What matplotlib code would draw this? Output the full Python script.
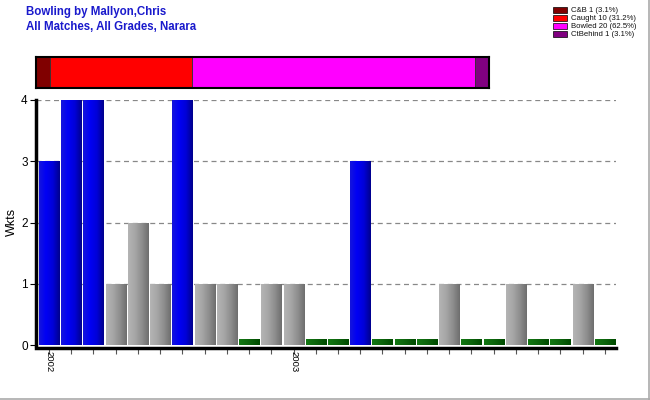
import matplotlib
matplotlib.use("Agg")
import matplotlib.pyplot as plt
import numpy as np
from matplotlib.lines import Line2D
from matplotlib.colors import LinearSegmentedColormap

plt.rcParams['font.family'] = ['Liberation Sans', 'DejaVu Sans']

# Data
wickets = [3, 4, 4, 1, 2, 1, 4, 1, 1, 0.1, 1, 1, 0.1, 0.1, 3, 0.1, 0.1, 0.1, 1, 0.1, 0.1, 1, 0.1, 0.1, 1, 0.1]
xlabels = ['2002'] + [''] * 10 + ['2003'] + [''] * 14
dismissal_names = ['C&B', 'Caught', 'Bowled', 'CtBehind']
dismissal_counts = [1, 10, 20, 1]
dismissal_colors = ['#800000', '#FF0000', '#FF00FF', '#800080']

fig = plt.figure(figsize=(6.5, 4.0), dpi=100)
fig.patch.set_facecolor('white')

# Main axes
ax = fig.add_axes([36/650, 1-345/400, 580/650, 245/400])
x = np.arange(len(wickets))
bars = ax.bar(x, wickets, width=0.9, color='none', edgecolor='none', zorder=3)

cmaps = {
    'blue': LinearSegmentedColormap.from_list('b', ['#1414DC', '#0000F5', '#0000D8', '#00008C']),
    'gray': LinearSegmentedColormap.from_list('g', ['#B4B4B4', '#A6A6A6', '#8E8E8E', '#6E6E6E']),
    'green': LinearSegmentedColormap.from_list('gr', ['#137813', '#0C640C', '#004A00']),
}
grad = np.linspace(0, 1, 64).reshape(1, -1)
for b, v in zip(bars, wickets):
    if v >= 3:
        cm = cmaps['blue']
    elif v >= 1:
        cm = cmaps['gray']
    else:
        cm = cmaps['green']
    x0, w, h = b.get_x(), b.get_width(), b.get_height()
    im = ax.imshow(grad, cmap=cm, aspect='auto', extent=[x0, x0 + w, 0, h],
                   zorder=3, interpolation='bilinear')
    im.set_clip_path(b)

ax.set_xlim(-0.58, len(wickets) - 0.5)
ax.set_ylim(0, 4)
ax.set_yticks([0, 1, 2, 3, 4])
ax.set_yticklabels(['0', '1', '2', '3', '4'], fontsize=8.5)
ax.set_xticks(x)
ax.set_xticklabels(xlabels)
ax.tick_params(axis='x', length=4, color='#555555', pad=-2, labelrotation=-90, labelsize=6.8)
ax.tick_params(axis='y', length=4, color='black', pad=2)
for yv in [1, 2, 3, 4]:
    ax.axhline(yv, color='#888888', linestyle=(0, (4, 3)), linewidth=0.9, zorder=1)
for s in ['top', 'right']:
    ax.spines[s].set_visible(False)
ax.spines['left'].set_linewidth(2.5)
ax.spines['bottom'].set_linewidth(2.5)
ax.spines['bottom'].set_position(('outward', 2))
for lbl in ax.get_xticklabels():
    lbl.set_rotation(-90)
    lbl.set_fontsize(6.8)
    lbl.set_va('top')
    lbl.set_ha('center')
fig.text(12/650, 1-222/400, 'Wkts', fontsize=9, rotation=90, va='center', ha='center')

# Stacked dismissal bar
ax2 = fig.add_axes([36/650, 1-88/400, 453/650, 31/400])
total = sum(dismissal_counts)
left = 0
for n, c, col in zip(dismissal_names, dismissal_counts, dismissal_colors):
    ax2.barh(0, c, left=left, color=col, edgecolor='#333333', linewidth=0.6, height=1.0)
    left += c
ax2.set_xlim(0, total)
ax2.set_ylim(-0.5, 0.5)
ax2.set_xticks([])
ax2.set_yticks([])
for s in ax2.spines.values():
    s.set_linewidth(1.5)

# Legend
leg_y0 = 10
for i, (n, c, col) in enumerate(zip(dismissal_names, dismissal_counts, dismissal_colors)):
    yy = leg_y0 + i * 8
    fig.add_artist(plt.Rectangle((553/650, 1-(yy+3)/400), 14/650, 6/400,
                                 facecolor=col, edgecolor='black', linewidth=0.5,
                                 transform=fig.transFigure))
    fig.text(571/650, 1-yy/400, f'{n} {c} ({100*c/total:.1f}%)', fontsize=5.6,
             va='center', ha='left', color='#111111')

# Titles
fig.text(26/650, 1-12/400, 'Bowling by Mallyon,Chris', fontsize=8.3, fontweight='bold',
         color='#1A1ACC', va='center', ha='left')
fig.text(26/650, 1-27/400, 'All Matches, All Grades, Narara', fontsize=8.3, fontweight='bold',
         color='#1A1ACC', va='center', ha='left')

# Figure border (right and bottom)
fig.add_artist(Line2D([648.5/650, 648.5/650], [0, 1], color='#AAAAAA', linewidth=1.2,
                      transform=fig.transFigure))
fig.add_artist(Line2D([0, 1], [1.5/400, 1.5/400], color='#AAAAAA', linewidth=1.2,
                      transform=fig.transFigure))

fig.savefig('out.png', dpi=100)
